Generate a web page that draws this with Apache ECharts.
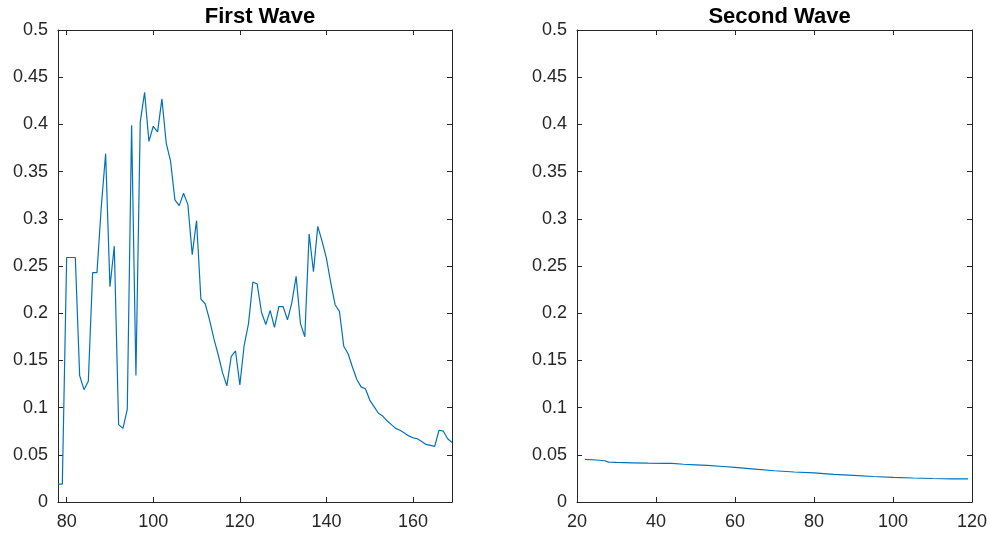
<!DOCTYPE html>
<html>
<head>
<meta charset="utf-8">
<script src="https://cdn.jsdelivr.net/npm/echarts@6/dist/echarts.min.js"></script>
<style>html,body{margin:0;padding:0;background:#fff}#c{width:990px;height:538px}</style>
</head>
<body>
<div id="c"></div>
<script>
// ---- data ----
const titles = ['First Wave', 'Second Wave'];
const firstX = [78,79,80,81,82,83,84,85,86,87,88,89,90,91,92,93,94,95,96,97,98,99,100,101,102,103,104,105,106,107,108,109,110,111,112,113,114,115,116,117,118,119,120,121,122,123,124,125,126,127,128,129,130,131,132,133,134,135,136,137,138,139,140,141,142,143,144,145,146,147,148,149,150,151,152,153,154,155,156,157,158,159,160,161,162,163,164,165,166,167,168,169];
const firstY = [0.019,0.019,0.259,0.259,0.259,0.134,0.119,0.128,0.243,0.243,
  0.313,0.369,0.228,0.271,0.082,0.078,0.098,0.399,0.134,0.403,
  0.434,0.382,0.398,0.392,0.427,0.380,0.361,0.320,0.314,0.327,
  0.315,0.262,0.298,0.215,0.210,0.193,0.173,0.156,0.137,0.123,
  0.154,0.160,0.124,0.166,0.189,0.233,0.231,0.201,0.188,0.203,
  0.185,0.207,0.207,0.193,0.211,0.239,0.189,0.175,0.284,0.244,
  0.292,0.276,0.258,0.232,0.209,0.202,0.165,0.157,0.143,0.130,
  0.122,0.120,0.108,0.101,0.094,0.091,0.086,0.082,0.078,0.076,
  0.073,0.070,0.068,0.067,0.064,0.061,0.060,0.059,0.076,0.075,
  0.067,0.063];
const secondX = [22,25,27,28,30,34,38,42,44,47,50,53,57,60,65,70,75,80,85,90,95,100,105,110,115,119];
const secondY = [0.0451,0.0445,0.0437,0.0422,0.0419,0.0415,0.0411,0.0410,0.0409,0.0400,0.0394,0.0387,0.0376,0.0366,0.0349,0.0331,0.0318,0.0308,0.0292,0.0282,0.0270,0.0261,0.0254,0.0249,0.0246,0.0244];
const firstXTicks = [80,100,120,140,160];
const secondXTicks = [20,40,60,80,100,120];
const yTicks = [0,0.05,0.1,0.15,0.2,0.25,0.3,0.35,0.4,0.45,0.5];

// ---- chart ----
const axisColor = '#262626';
const fontFam = '"Liberation Sans", Arial, Helvetica, sans-serif';
const grids = [
  {left: 58, right: 538, top: 30, bottom: 36},
  {left: 577, right: 18, top: 30, bottom: 36}
];
const xRanges = [[78,169],[20,120]];
const xTickSets = [firstXTicks, secondXTicks];

function xAxisPair(i){
  const base = {
    type: 'value', gridIndex: i, min: xRanges[i][0], max: xRanges[i][1],
    axisLine: {show: true, onZero: false, lineStyle: {color: axisColor, width: 1}},
    splitLine: {show: false}
  };
  return [
    Object.assign({}, base, {
      position: 'bottom',
      axisTick: {show: true, inside: true, length: 5, customValues: xTickSets[i], lineStyle: {color: axisColor}},
      axisLabel: {show: true, customValues: xTickSets[i], color: axisColor, fontSize: 18, fontFamily: fontFam, margin: 11}
    }),
    Object.assign({}, base, {
      position: 'top',
      axisTick: {show: true, inside: true, length: 5, customValues: xTickSets[i], lineStyle: {color: axisColor}},
      axisLabel: {show: false}
    })
  ];
}
function yAxisPair(i){
  const base = {
    type: 'value', gridIndex: i, min: 0, max: 0.5, interval: 0.05,
    axisLine: {show: true, onZero: false, lineStyle: {color: axisColor, width: 1}},
    splitLine: {show: false}
  };
  return [
    Object.assign({}, base, {
      position: 'left',
      axisTick: {show: true, inside: true, length: 5, customValues: yTicks, lineStyle: {color: axisColor}},
      axisLabel: {show: true, customValues: yTicks, color: axisColor, fontSize: 18, fontFamily: fontFam, margin: 10,
        formatter: v => String(+(+v).toFixed(2))}
    }),
    Object.assign({}, base, {
      position: 'right',
      axisTick: {show: true, inside: true, length: 5, customValues: yTicks, lineStyle: {color: axisColor}},
      axisLabel: {show: false}
    })
  ];
}

const chart = echarts.init(document.getElementById('c'), null, {renderer: 'canvas'});
chart.setOption({
  animation: false,
  backgroundColor: '#ffffff',
  title: titles.map((t, i) => ({
    text: t,
    left: i === 0 ? 255 : 774.5,
    top: 1,
    textAlign: 'center',
    textStyle: {fontSize: 22, fontWeight: 'bold', color: '#000', fontFamily: fontFam}
  })),
  grid: grids.map(g => Object.assign({containLabel: false, outerBoundsMode: 'none'}, g)),
  xAxis: [...xAxisPair(0), ...xAxisPair(1)],
  yAxis: [...yAxisPair(0), ...yAxisPair(1)],
  series: [
    {type: 'line', xAxisIndex: 0, yAxisIndex: 0, showSymbol: false, symbol: 'none',
     lineStyle: {color: '#0072BD', width: 1.2}, data: firstX.map((x, k) => [x, firstY[k]])},
    {type: 'line', xAxisIndex: 2, yAxisIndex: 2, showSymbol: false, symbol: 'none',
     lineStyle: {color: '#0072BD', width: 1.2}, data: secondX.map((x, k) => [x, secondY[k]])}
  ]
});
</script>
</body>
</html>
